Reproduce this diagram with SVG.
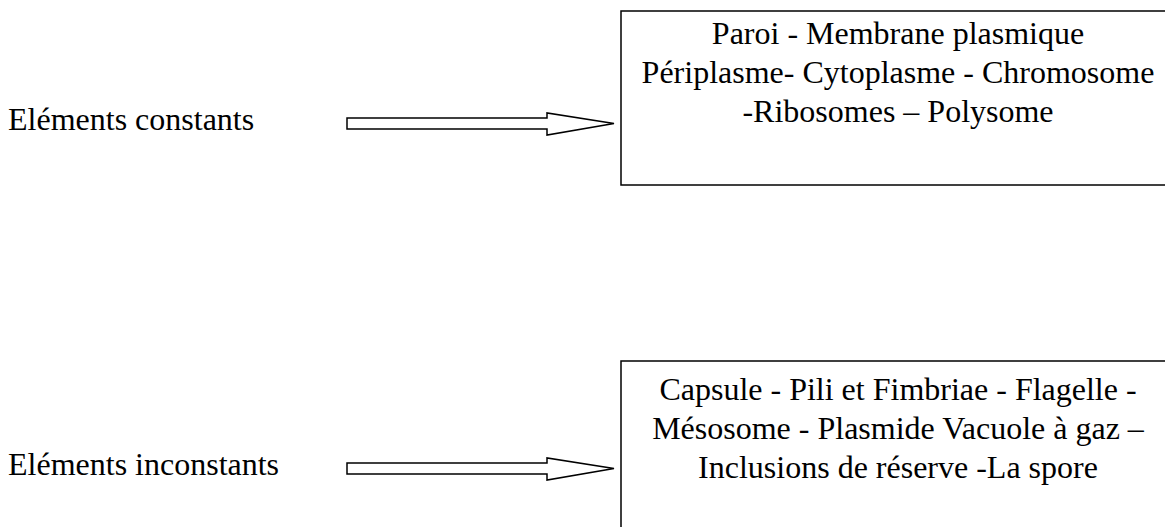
<svg xmlns="http://www.w3.org/2000/svg" width="1165" height="527" viewBox="0 0 1165 527">
<style>
text{font-family:"Liberation Serif","Times New Roman",serif;font-size:32px;fill:#000}
.c{text-anchor:middle}
.box{fill:#fff;stroke:#000;stroke-width:1.5}
.arr{fill:#fff;stroke:#000;stroke-width:1.5;stroke-linejoin:miter}
</style>
<rect width="1165" height="527" fill="#fff"/>
<g id="label-constants"><text x="8" y="130">Eléments constants</text></g>
<g id="label-inconstants"><text x="8" y="475">Eléments inconstants</text></g>
<g id="box-constants">
<rect class="box" x="621" y="11" width="560" height="174"/>
<text class="c" x="898" y="44">Paroi - Membrane plasmique</text>
<text class="c" x="898" y="83">Périplasme- Cytoplasme - Chromosome</text>
<text class="c" x="898" y="122">-Ribosomes – Polysome</text>
</g>
<g id="box-inconstants">
<rect class="box" x="621" y="361" width="560" height="180"/>
<text class="c" x="898" y="400">Capsule - Pili et Fimbriae - Flagelle -</text>
<text class="c" x="898" y="439">Mésosome - Plasmide Vacuole à gaz –</text>
<text class="c" x="898" y="478">Inclusions de réserve -La spore</text>
</g>
<g id="connectors">
<polygon class="arr" points="347,118 547,118 547,113 614,123.5 547,135 547,129 347,129"/>
<polygon class="arr" points="347,463 547,463 547,458 614,468.5 547,480 547,474 347,474"/>
</g>
</svg>
